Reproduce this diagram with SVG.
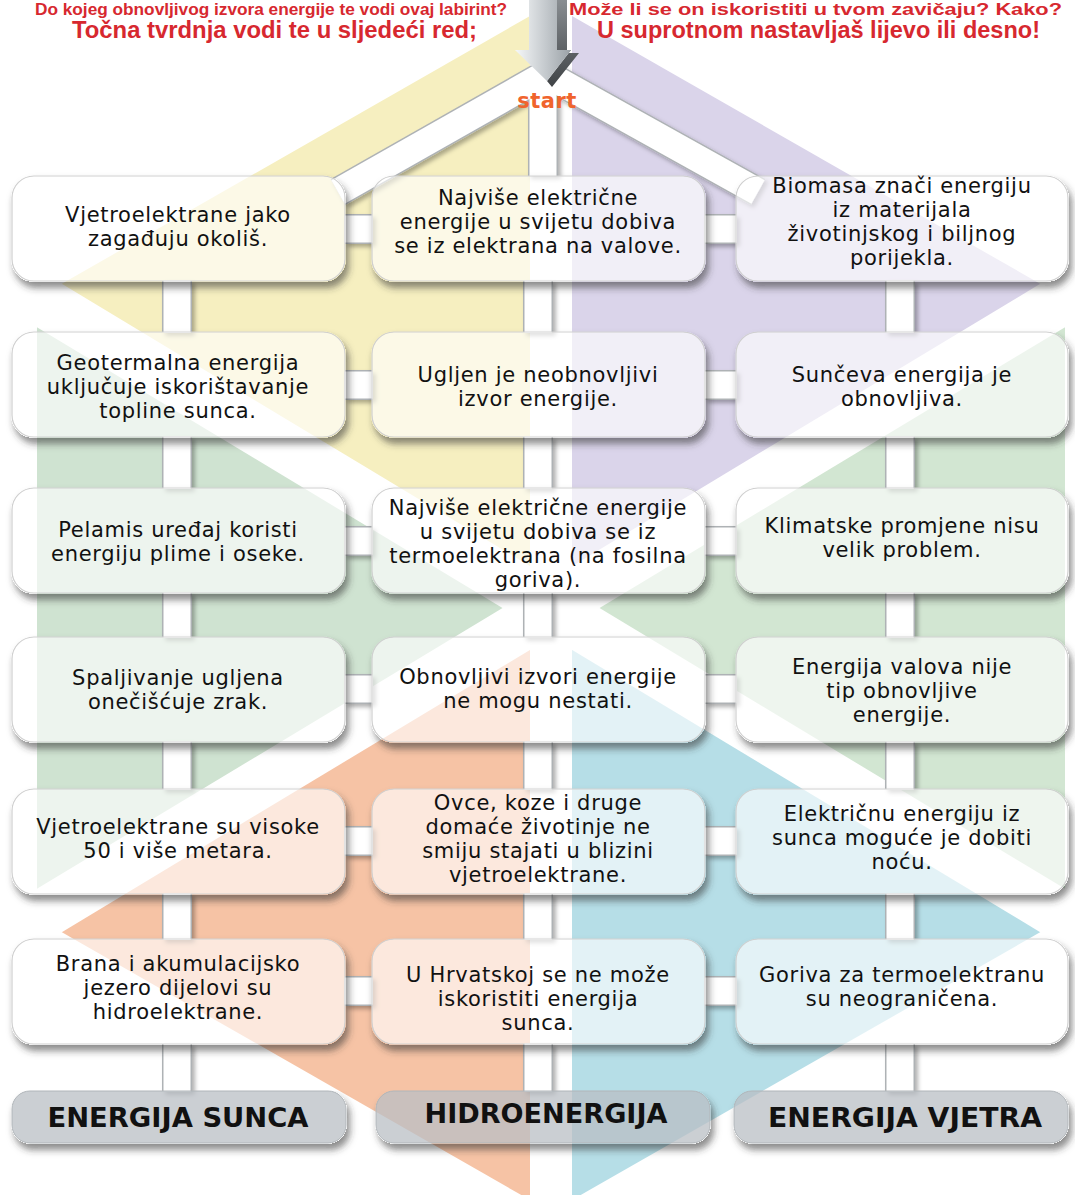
<svg xmlns="http://www.w3.org/2000/svg" width="1075" height="1195" viewBox="0 0 1075 1195">
<defs>
<filter id="ns" x="-5%" y="-10%" width="115%" height="140%">
<feComponentTransfer in="SourceAlpha" result="A"><feFuncA type="linear" slope="20"/></feComponentTransfer>
<feGaussianBlur in="A" stdDeviation="3.5" result="b"/>
<feOffset in="b" dx="3" dy="6" result="o"/>
<feFlood flood-color="#333" flood-opacity="0.55"/>
<feComposite in2="o" operator="in" result="s"/>
<feComposite in="s" in2="A" operator="out" result="so"/>
<feMerge><feMergeNode in="so"/><feMergeNode in="SourceGraphic"/></feMerge>
</filter>
<filter id="csh" x="-20%" y="-20%" width="150%" height="150%">
<feDropShadow dx="3" dy="3" stdDeviation="2" flood-color="#000" flood-opacity="0.3"/>
</filter>
<linearGradient id="arr" x1="0" y1="0" x2="1" y2="0">
<stop offset="0" stop-color="#f6f8f9"/>
<stop offset="0.55" stop-color="#c4c9cd"/>
<stop offset="1" stop-color="#9aa1a6"/>
</linearGradient>
<linearGradient id="arrD" x1="0" y1="0" x2="0" y2="1">
<stop offset="0" stop-color="#8a8f93"/>
<stop offset="1" stop-color="#3f4346"/>
</linearGradient>
</defs>
<style>
.node rect{fill:#fff;fill-opacity:.62;stroke:#cfcfcf;stroke-width:1.2}
.t{font-family:"DejaVu Sans",sans-serif;font-size:21px;letter-spacing:.7px;fill:#111;text-anchor:middle}
.lab rect{fill:#b9bfc4;fill-opacity:.75;stroke:#b0b5b9;stroke-width:1}
.lt{font-family:"DejaVu Sans",sans-serif;font-weight:bold;font-size:27px;fill:#111;text-anchor:middle}
.ce{stroke:#aeb2b5;stroke-width:30;fill:none}
.ci{stroke:#fff;stroke-width:27;fill:none}
.top{font-family:"Liberation Sans",Arial,sans-serif;font-weight:bold;fill:#d7282f}
</style>

<g id="background">
<polygon points="551,4 37,298 551,608" fill="#f6efc0"/>
<polygon points="551,4 1065,298 551,608" fill="#dad4ea"/>
<polygon points="37,298 37,918 551,608" fill="#cfe3d1"/>
<polygon points="1065,298 1065,918 551,608" fill="#d2e6d2"/>
<polygon points="37,918 551,1212 551,608" fill="#f6c3a5"/>
<polygon points="1065,918 551,1212 551,608" fill="#b6dee7"/>
<line x1="551" y1="-10" x2="551" y2="1220" stroke="#fff" stroke-width="42"/>
<line x1="0" y1="275.7" x2="1075" y2="924" stroke="#fff" stroke-width="50"/>
<line x1="0" y1="940.3" x2="1075" y2="292" stroke="#fff" stroke-width="50"/>
</g>

<g id="header">
<text class="top" x="35" y="15" font-size="16" textLength="472" lengthAdjust="spacingAndGlyphs">Do kojeg obnovljivog izvora energije te vodi ovaj labirint?</text>
<text class="top" x="569" y="15" font-size="16" textLength="493" lengthAdjust="spacingAndGlyphs">Može li se on iskoristiti u tvom zavičaju? Kako?</text>
<text class="top" x="72" y="38" font-size="23" textLength="405" lengthAdjust="spacingAndGlyphs">Točna tvrdnja vodi te u sljedeći red;</text>
<text class="top" x="597" y="38" font-size="23" textLength="443" lengthAdjust="spacingAndGlyphs">U suprotnom nastavljaš lijevo ili desno!</text>
</g>

<g id="connectors" filter="url(#csh)">
<g class="ce">
<line x1="546" y1="74" x2="338" y2="192"/>
<line x1="546" y1="74" x2="758" y2="192"/>
<line x1="543" y1="74" x2="543" y2="176"/>
<line x1="177" y1="281" x2="177" y2="332"/><line x1="538" y1="281" x2="538" y2="332"/><line x1="900" y1="281" x2="900" y2="332"/>
<line x1="177" y1="437" x2="177" y2="488"/><line x1="538" y1="437" x2="538" y2="488"/><line x1="900" y1="437" x2="900" y2="488"/>
<line x1="177" y1="593" x2="177" y2="637"/><line x1="538" y1="593" x2="538" y2="637"/><line x1="900" y1="593" x2="900" y2="637"/>
<line x1="177" y1="742" x2="177" y2="789"/><line x1="538" y1="742" x2="538" y2="789"/><line x1="900" y1="742" x2="900" y2="789"/>
<line x1="177" y1="894" x2="177" y2="939"/><line x1="538" y1="894" x2="538" y2="939"/><line x1="900" y1="894" x2="900" y2="939"/>
<line x1="177" y1="1044" x2="177" y2="1091"/><line x1="538" y1="1044" x2="538" y2="1091"/><line x1="900" y1="1044" x2="900" y2="1091"/>
<line x1="345" y1="229" x2="372" y2="229"/><line x1="705" y1="229" x2="736" y2="229"/>
<line x1="345" y1="385" x2="372" y2="385"/><line x1="705" y1="385" x2="736" y2="385"/>
<line x1="345" y1="541" x2="372" y2="541"/><line x1="705" y1="541" x2="736" y2="541"/>
<line x1="345" y1="689" x2="372" y2="689"/><line x1="705" y1="689" x2="736" y2="689"/>
<line x1="345" y1="841" x2="372" y2="841"/><line x1="705" y1="841" x2="736" y2="841"/>
<line x1="345" y1="991" x2="372" y2="991"/><line x1="705" y1="991" x2="736" y2="991"/>
</g>
<g class="ci">
<line x1="546" y1="74" x2="338" y2="192"/>
<line x1="546" y1="74" x2="758" y2="192"/>
<line x1="543" y1="74" x2="543" y2="176"/>
<line x1="177" y1="280" x2="177" y2="333"/><line x1="538" y1="280" x2="538" y2="333"/><line x1="900" y1="280" x2="900" y2="333"/>
<line x1="177" y1="436" x2="177" y2="489"/><line x1="538" y1="436" x2="538" y2="489"/><line x1="900" y1="436" x2="900" y2="489"/>
<line x1="177" y1="592" x2="177" y2="638"/><line x1="538" y1="592" x2="538" y2="638"/><line x1="900" y1="592" x2="900" y2="638"/>
<line x1="177" y1="741" x2="177" y2="790"/><line x1="538" y1="741" x2="538" y2="790"/><line x1="900" y1="741" x2="900" y2="790"/>
<line x1="177" y1="893" x2="177" y2="940"/><line x1="538" y1="893" x2="538" y2="940"/><line x1="900" y1="893" x2="900" y2="940"/>
<line x1="177" y1="1043" x2="177" y2="1092"/><line x1="538" y1="1043" x2="538" y2="1092"/><line x1="900" y1="1043" x2="900" y2="1092"/>
<line x1="344" y1="229" x2="373" y2="229"/><line x1="704" y1="229" x2="737" y2="229"/>
<line x1="344" y1="385" x2="373" y2="385"/><line x1="704" y1="385" x2="737" y2="385"/>
<line x1="344" y1="541" x2="373" y2="541"/><line x1="704" y1="541" x2="737" y2="541"/>
<line x1="344" y1="689" x2="373" y2="689"/><line x1="704" y1="689" x2="737" y2="689"/>
<line x1="344" y1="841" x2="373" y2="841"/><line x1="704" y1="841" x2="737" y2="841"/>
<line x1="344" y1="991" x2="373" y2="991"/><line x1="704" y1="991" x2="737" y2="991"/>
</g>
</g>

<g id="start">
<polygon points="557,-2 567,-2 567,53 579,53 552,87 547,81 571,50 557,50" fill="url(#arrD)"/>
<polygon points="529,-2 557,-2 557,50 571,50 547,81 515,50 529,50" fill="url(#arr)"/>
<text x="547" y="108" font-family="DejaVu Sans,sans-serif" font-weight="bold" font-size="21" letter-spacing="0.5" fill="#f0642d" text-anchor="middle">start</text>
</g>

<g id="n1" class="node"><rect x="12" y="176" width="333" height="105" rx="22" filter="url(#ns)"/><text class="t"><tspan x="178" y="222">Vjetroelektrane jako</tspan><tspan x="178" y="246">zagađuju okoliš.</tspan></text></g>
<g id="n2" class="node"><rect x="372" y="176" width="333" height="105" rx="22" filter="url(#ns)"/><text class="t"><tspan x="538" y="205">Najviše električne</tspan><tspan x="538" y="229">energije u svijetu dobiva</tspan><tspan x="538" y="253">se iz elektrana na valove.</tspan></text></g>
<g id="n3" class="node"><rect x="736" y="176" width="332" height="105" rx="22" filter="url(#ns)"/><text class="t"><tspan x="902" y="193">Biomasa znači energiju</tspan><tspan x="902" y="217">iz materijala</tspan><tspan x="902" y="241">životinjskog i biljnog</tspan><tspan x="902" y="265">porijekla.</tspan></text></g>

<g id="n4" class="node"><rect x="12" y="332" width="333" height="105" rx="22" filter="url(#ns)"/><text class="t"><tspan x="178" y="370">Geotermalna energija</tspan><tspan x="178" y="394">uključuje iskorištavanje</tspan><tspan x="178" y="418">topline sunca.</tspan></text></g>
<g id="n5" class="node"><rect x="372" y="332" width="333" height="105" rx="22" filter="url(#ns)"/><text class="t"><tspan x="538" y="382">Ugljen je neobnovljivi</tspan><tspan x="538" y="406">izvor energije.</tspan></text></g>
<g id="n6" class="node"><rect x="736" y="332" width="332" height="105" rx="22" filter="url(#ns)"/><text class="t"><tspan x="902" y="382">Sunčeva energija je</tspan><tspan x="902" y="406">obnovljiva.</tspan></text></g>

<g id="n7" class="node"><rect x="12" y="488" width="333" height="105" rx="22" filter="url(#ns)"/><text class="t"><tspan x="178" y="537">Pelamis uređaj koristi</tspan><tspan x="178" y="561">energiju plime i oseke.</tspan></text></g>
<g id="n8" class="node"><rect x="372" y="488" width="333" height="105" rx="22" filter="url(#ns)"/><text class="t"><tspan x="538" y="515">Najviše električne energije</tspan><tspan x="538" y="539">u svijetu dobiva se iz</tspan><tspan x="538" y="563">termoelektrana (na fosilna</tspan><tspan x="538" y="587">goriva).</tspan></text></g>
<g id="n9" class="node"><rect x="736" y="488" width="332" height="105" rx="22" filter="url(#ns)"/><text class="t"><tspan x="902" y="533">Klimatske promjene nisu</tspan><tspan x="902" y="557">velik problem.</tspan></text></g>

<g id="n10" class="node"><rect x="12" y="637" width="333" height="105" rx="22" filter="url(#ns)"/><text class="t"><tspan x="178" y="685">Spaljivanje ugljena</tspan><tspan x="178" y="709">onečišćuje zrak.</tspan></text></g>
<g id="n11" class="node"><rect x="372" y="637" width="333" height="105" rx="22" filter="url(#ns)"/><text class="t"><tspan x="538" y="684">Obnovljivi izvori energije</tspan><tspan x="538" y="708">ne mogu nestati.</tspan></text></g>
<g id="n12" class="node"><rect x="736" y="637" width="332" height="105" rx="22" filter="url(#ns)"/><text class="t"><tspan x="902" y="674">Energija valova nije</tspan><tspan x="902" y="698">tip obnovljive</tspan><tspan x="902" y="722">energije.</tspan></text></g>

<g id="n13" class="node"><rect x="12" y="789" width="333" height="105" rx="22" filter="url(#ns)"/><text class="t"><tspan x="178" y="834">Vjetroelektrane su visoke</tspan><tspan x="178" y="858">50 i više metara.</tspan></text></g>
<g id="n14" class="node"><rect x="372" y="789" width="333" height="105" rx="22" filter="url(#ns)"/><text class="t"><tspan x="538" y="810">Ovce, koze i druge</tspan><tspan x="538" y="834">domaće životinje ne</tspan><tspan x="538" y="858">smiju stajati u blizini</tspan><tspan x="538" y="882">vjetroelektrane.</tspan></text></g>
<g id="n15" class="node"><rect x="736" y="789" width="332" height="105" rx="22" filter="url(#ns)"/><text class="t"><tspan x="902" y="821">Električnu energiju iz</tspan><tspan x="902" y="845">sunca moguće je dobiti</tspan><tspan x="902" y="869">noću.</tspan></text></g>

<g id="n16" class="node"><rect x="12" y="939" width="333" height="105" rx="22" filter="url(#ns)"/><text class="t"><tspan x="178" y="971">Brana i akumulacijsko</tspan><tspan x="178" y="995">jezero dijelovi su</tspan><tspan x="178" y="1019">hidroelektrane.</tspan></text></g>
<g id="n17" class="node"><rect x="372" y="939" width="333" height="105" rx="22" filter="url(#ns)"/><text class="t"><tspan x="538" y="982">U Hrvatskoj se ne može</tspan><tspan x="538" y="1006">iskoristiti energija</tspan><tspan x="538" y="1030">sunca.</tspan></text></g>
<g id="n18" class="node"><rect x="736" y="939" width="332" height="105" rx="22" filter="url(#ns)"/><text class="t"><tspan x="902" y="982">Goriva za termoelektranu</tspan><tspan x="902" y="1006">su neograničena.</tspan></text></g>

<g id="l1" class="lab"><rect x="12" y="1091" width="334" height="52" rx="18" filter="url(#ns)"/><text class="lt" x="178" y="1127" textLength="261" lengthAdjust="spacingAndGlyphs">ENERGIJA SUNCA</text></g>
<g id="l2" class="lab"><rect x="376" y="1091" width="334" height="52" rx="18" filter="url(#ns)"/><text class="lt" x="546" y="1123" textLength="243" lengthAdjust="spacingAndGlyphs">HIDROENERGIJA</text></g>
<g id="l3" class="lab"><rect x="734" y="1091" width="334" height="52" rx="18" filter="url(#ns)"/><text class="lt" x="905" y="1127" textLength="274" lengthAdjust="spacingAndGlyphs">ENERGIJA VJETRA</text></g>
</svg>
